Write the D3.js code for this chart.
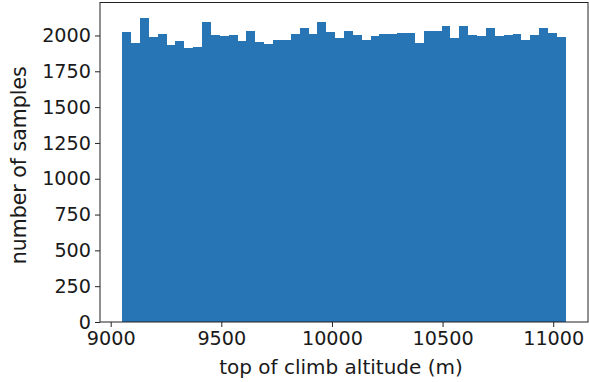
<!DOCTYPE html>
<html>
<head>
<meta charset="utf-8">
<script src="https://cdn.jsdelivr.net/npm/d3@7"></script>
<style>
  html, body { margin: 0; padding: 0; background: #fff; }
  svg { display: block; }
  text { font-family: "DejaVu Sans", sans-serif; fill: #1a1a1a; }
</style>
</head>
<body>
<svg id="chart" width="589" height="382"></svg>
<script>
// Histogram of top-of-climb altitudes: 50 equal-width bins
const binStart = 9052;
const binEnd = 11057;
const counts = [
  2024, 1950, 2124, 1986, 2010, 1934, 1962, 1913, 1920, 2094,
  2000, 1993, 2003, 1962, 2031, 1953, 1941, 1969, 1965, 2010,
  2050, 2010, 2092, 2024, 1979, 2031, 2003, 1969, 1997, 2010,
  2008, 2014, 2014, 1950, 2031, 2031, 2063, 1980, 2063, 2006,
  1997, 2051, 1994, 2006, 2010, 1965, 2001, 2051, 2014, 1990
];
const xTicks = [9000, 9500, 10000, 10500, 11000];
const yTicks = [0, 250, 500, 750, 1000, 1250, 1500, 1750, 2000];
const xLabel = "top of climb altitude (m)";
const yLabel = "number of samples";

const binWidth = (binEnd - binStart) / counts.length;
const bins = counts.map((c, i) => ({
  x0: binStart + i * binWidth,
  x1: binStart + (i + 1) * binWidth,
  count: c
}));

const plot = { left: 100, right: 588, top: 2.5, bottom: 322 };
const fontSize = 19.2;

// 5% padding on either side of the data, like matplotlib's default margins
const pad = (binEnd - binStart) * 0.05;
const x = d3.scaleLinear()
  .domain([binStart - pad, binEnd + pad])
  .range([plot.left, plot.right]);
const y = d3.scaleLinear()
  .domain([0, d3.max(counts) * 1.05])
  .range([plot.bottom, plot.top]);

const svg = d3.select("#chart");

// bars: each one spans to the next bin's left edge so there are no seams
svg.append("g")
  .attr("shape-rendering", "crispEdges")
  .selectAll("rect")
  .data(bins)
  .join("rect")
  .attr("x", d => Math.round(x(d.x0)))
  .attr("width", d => Math.round(x(d.x1)) - Math.round(x(d.x0)))
  .attr("y", d => y(d.count))
  .attr("height", d => y(0) - y(d.count))
  .attr("fill", "#2775b4");

// frame
svg.append("rect")
  .attr("x", plot.left)
  .attr("y", plot.top)
  .attr("width", plot.right - plot.left)
  .attr("height", plot.bottom - plot.top)
  .attr("fill", "none")
  .attr("stroke", "#222")
  .attr("stroke-width", 1);

const xAxis = svg.append("g")
  .attr("transform", `translate(0,${plot.bottom})`)
  .call(d3.axisBottom(x).tickValues(xTicks).tickFormat(d3.format("d"))
    .tickSizeInner(5).tickSizeOuter(0).tickPadding(4));
xAxis.select(".domain").remove();
xAxis.selectAll("line").attr("stroke", "#222");
xAxis.selectAll("text").attr("font-size", fontSize).attr("fill", "#1a1a1a")
  .attr("font-family", "DejaVu Sans, sans-serif");

const yAxis = svg.append("g")
  .attr("transform", `translate(${plot.left},0)`)
  .call(d3.axisLeft(y).tickValues(yTicks).tickFormat(d3.format("d"))
    .tickSizeInner(5).tickSizeOuter(0).tickPadding(4));
yAxis.select(".domain").remove();
yAxis.selectAll("line").attr("stroke", "#222");
yAxis.selectAll("text").attr("font-size", fontSize).attr("fill", "#1a1a1a")
  .attr("font-family", "DejaVu Sans, sans-serif");

svg.append("text")
  .attr("x", (plot.left + plot.right) / 2 - 3)
  .attr("y", 374)
  .attr("text-anchor", "middle")
  .attr("font-size", 20)
  .text(xLabel);

svg.append("text")
  .attr("transform", `translate(26,${(plot.top + plot.bottom) / 2 + 3}) rotate(-90)`)
  .attr("text-anchor", "middle")
  .attr("font-size", 20.5)
  .text(yLabel);
</script>
</body>
</html>
